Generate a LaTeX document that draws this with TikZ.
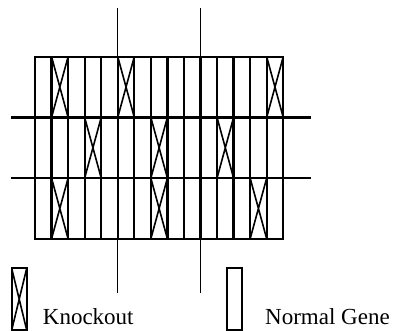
\documentclass[tikz,border=0pt]{standalone}
\usepackage{fontspec}
\setmainfont{Liberation Serif}
\usetikzlibrary{positioning}

\begin{document}
\begin{tikzpicture}[
    x=1pt, y=-1pt,
    font=\rmfamily\fontsize{23}{27}\selectfont,
    gene/.style={draw, line width=2.3pt, minimum width=16.55pt,
                 minimum height=60.7pt, inner sep=0pt, outer sep=0pt},
    knock/.style={gene, path picture={
        \draw[line width=1.6pt]
          (path picture bounding box.north west) -- (path picture bounding box.south east)
          (path picture bounding box.north east) -- (path picture bounding box.south west);}},
    axis/.style={line width=2.3pt},
    cut/.style={line width=1.4pt},
    legendtext/.style={anchor=base west, inner sep=0pt},
  ]
    \useasboundingbox (0,0) rectangle (394,331);

    % gene grid: 3 rows of 15, knockouts listed per row
    \foreach \r/\kos in {1/{1,5,14}, 2/{3,7,11}, 3/{1,7,13}} {
      \foreach \c in {0,...,14} {
        \gdef\sty{gene}
        \foreach \k in \kos {\ifnum\c=\k\relax\gdef\sty{knock}\fi}
        \node[\sty] (g-\r-\c) at ({35+16.55*(\c+0.5)}, {56.7+60.7*(\r-0.5)}) {};
      }
    }

    % dividing lines
    \coordinate (h1w) at (11,117.4);   \coordinate (h1e) at (311,117.4);
    \coordinate (h2w) at (11,178.1);   \coordinate (h2e) at (311,178.1);
    \coordinate (v1n) at (117.75,8);   \coordinate (v1s) at (117.75,293);
    \coordinate (v2n) at (200.5,8);    \coordinate (v2s) at (200.5,293);
    \draw[axis] (h1w) -- (h1e);
    \draw[axis] (h2w) -- (h2e);
    \draw[cut] (v1n) -- (v1s);
    \draw[cut] (v2n) -- (v2s);

    % legend
    \node[knock, minimum width=15pt, minimum height=61.7pt] (kokey) at (19.2,299.2) {};
    \node[gene, minimum width=15pt, minimum height=61.7pt] (normkey) at (234.2,299.2) {};
    \node[legendtext] (kotext) at ([xshift=16pt, yshift=6pt]kokey.south east) {Knockout};
    \node[legendtext] (normtext) at ([xshift=23.3pt, yshift=6pt]normkey.south east) {Normal Gene};
  \end{tikzpicture}
\end{document}
